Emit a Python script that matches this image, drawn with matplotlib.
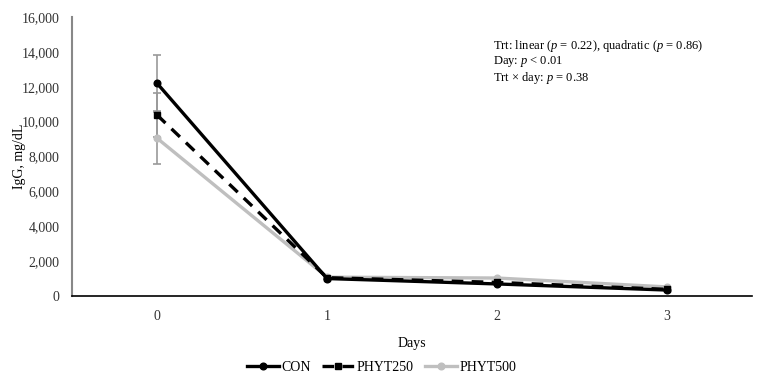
import matplotlib
matplotlib.use("Agg")
import matplotlib.pyplot as plt
from matplotlib.ticker import FuncFormatter

days = [0, 1, 2, 3]
day_labels = ["0", "1", "2", "3"]
con = [12200, 1000, 690, 340]
phyt250 = [10380, 1050, 780, 380]
phyt500 = [9050, 1080, 1030, 520]
con_err = [1600, 0, 0, 0]
phyt250_err = [1260, 0, 0, 0]
phyt500_err = [1500, 0, 0, 0]

plt.rcParams['font.family'] = ['Liberation Serif', 'DejaVu Serif']
plt.rcParams['mathtext.fontset'] = 'custom'
plt.rcParams['mathtext.rm'] = 'Liberation Serif'
plt.rcParams['mathtext.it'] = 'Liberation Serif:italic'

fs = 10

fig = plt.figure(figsize=(7.63, 3.86), dpi=100)
ax = fig.add_axes([0.0944, 0.2332, 0.8912, 0.7228])

ecol = '#999999'
for vals, errs in [(con, con_err), (phyt250, phyt250_err), (phyt500, phyt500_err)]:
    ax.errorbar(days, vals, yerr=errs, fmt='none', ecolor=ecol, elinewidth=1.2,
                capsize=3, capthick=1.2, zorder=1)

ax.plot(days, phyt500, color='#bfbfbf', lw=2.4, marker='o', ms=4.8, label='PHYT500', zorder=2)
ax.plot(days, phyt250, color='black', lw=2.4, ls=(0, (3.5, 2.5)), marker='s', ms=4.8, label='PHYT250', zorder=3)
ax.plot(days, con, color='black', lw=2.4, marker='o', ms=4.8, label='CON', zorder=4)

ax.set_xlim(-0.5, 3.5)
ax.set_ylim(0, 16000)
ax.set_yticks(range(0, 16001, 2000))
ax.yaxis.set_major_formatter(FuncFormatter(lambda v, p: f"{int(v):,}"))
ax.set_xticks(days)
ax.set_xticklabels(day_labels)
ax.tick_params(axis='both', length=0, labelsize=fs, colors='#333333')
ax.tick_params(axis='x', pad=10)
ax.tick_params(axis='y', pad=9)

for s in ['top', 'right']:
    ax.spines[s].set_visible(False)
ax.spines['left'].set_color('#888888')
ax.spines['left'].set_linewidth(1.5)
ax.spines['bottom'].set_color('black')
ax.spines['bottom'].set_linewidth(1.2)

ax.set_xlabel('Days', fontsize=fs, labelpad=10)
ax.set_ylabel('IgG, mg/dL', fontsize=fs, labelpad=-3)

ax.text(0.619, 0.925, 'Trt: linear ($p$ = 0.22), quadratic ($p$ = 0.86)\nDay: $p$ < 0.01\nTrt × day: $p$ = 0.38',
        transform=ax.transAxes, fontsize=9, va='top', ha='left', linespacing=1.05)

handles, labels = ax.get_legend_handles_labels()
order = [2, 1, 0]
fig.legend([handles[i] for i in order], [labels[i] for i in order], loc='center',
           bbox_to_anchor=(0.5, 0.048), ncol=3, frameon=False, fontsize=fs,
           handlelength=2.3, handletextpad=0.2, columnspacing=0.8)

fig.savefig('out.png', dpi=100)
